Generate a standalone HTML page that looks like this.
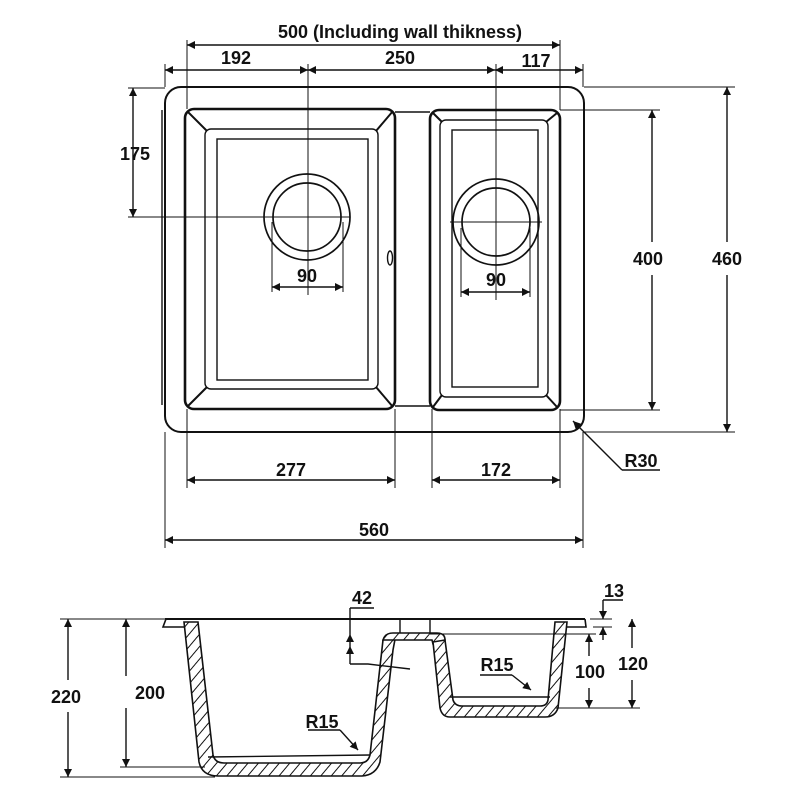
<!DOCTYPE html>
<html><head><meta charset="utf-8"><style>
html,body{margin:0;padding:0;background:#fff;}
svg{display:block;}
text{font-family:"Liberation Sans",sans-serif;font-weight:bold;font-size:18px;fill:#111;}
</style></head><body>
<svg width="800" height="800" viewBox="0 0 800 800" xmlns="http://www.w3.org/2000/svg">
<defs>
<marker id="a" viewBox="0 0 10 10" refX="10" refY="5" markerWidth="12" markerHeight="8" orient="auto-start-reverse" markerUnits="userSpaceOnUse"><path d="M0,0 L10,5 L0,10 z" fill="#111"/></marker>
<pattern id="h" width="8" height="8" patternUnits="userSpaceOnUse" patternTransform="rotate(40)"><rect width="8" height="8" fill="#fff"/><line x1="0" y1="0" x2="0" y2="8" stroke="#111" stroke-width="2"/></pattern>
</defs>
<g fill="none" stroke="#111" stroke-width="1.4">
<rect x="165" y="87" width="419" height="345" rx="16" stroke-width="2"/>
<line x1="162" y1="110" x2="162" y2="405"/>
<rect x="185" y="109" width="210" height="300" rx="9" stroke-width="2.6"/>
<rect x="205" y="129" width="173" height="260" rx="6"/>
<rect x="217" y="139" width="151" height="241"/>
<line x1="187" y1="111" x2="207" y2="131" stroke-width="2"/><line x1="393" y1="111" x2="376" y2="131" stroke-width="2"/>
<line x1="187" y1="407" x2="207" y2="387" stroke-width="2"/><line x1="393" y1="407" x2="376" y2="387" stroke-width="2"/>
<line x1="395" y1="112" x2="430" y2="112"/><line x1="395" y1="406" x2="430" y2="406"/>
<rect x="430" y="110" width="130" height="300" rx="9" stroke-width="2.6"/>
<rect x="440" y="120" width="108" height="277" rx="6"/>
<rect x="452" y="130" width="86" height="257"/>
<line x1="433" y1="113" x2="442" y2="122" stroke-width="2"/><line x1="557" y1="113" x2="546" y2="122" stroke-width="2"/>
<line x1="433" y1="407" x2="442" y2="395" stroke-width="2"/><line x1="557" y1="407" x2="546" y2="395" stroke-width="2"/>
<ellipse cx="390" cy="258" rx="2.5" ry="7"/>
<circle cx="307" cy="217" r="43" stroke-width="1.7"/><circle cx="307" cy="217" r="34" stroke-width="1.7"/>
<circle cx="496" cy="222" r="43" stroke-width="1.7"/><circle cx="496" cy="222" r="34" stroke-width="1.7"/>
<line x1="187" y1="45" x2="560" y2="45" marker-start="url(#a)" marker-end="url(#a)"/>
<line x1="187" y1="40" x2="187" y2="109" stroke-width="1"/><line x1="560" y1="40" x2="560" y2="110" stroke-width="1"/>
<line x1="165" y1="70" x2="308" y2="70" marker-start="url(#a)" marker-end="url(#a)"/>
<line x1="308" y1="70" x2="495" y2="70" marker-start="url(#a)" marker-end="url(#a)"/>
<line x1="495" y1="70" x2="583" y2="70" marker-start="url(#a)" marker-end="url(#a)"/>
<line x1="165" y1="64" x2="165" y2="87" stroke-width="1"/><line x1="583" y1="64" x2="583" y2="87" stroke-width="1"/>
<line x1="308" y1="64" x2="308" y2="295" stroke-width="1"/><line x1="496" y1="64" x2="496" y2="300" stroke-width="1"/>
<line x1="133" y1="88" x2="133" y2="217" marker-start="url(#a)" marker-end="url(#a)"/>
<line x1="128" y1="88" x2="165" y2="88" stroke-width="1"/><line x1="128" y1="217" x2="350" y2="217" stroke-width="1"/>
<line x1="450" y1="222" x2="542" y2="222" stroke-width="1"/>
<line x1="272" y1="222" x2="272" y2="292" stroke-width="1"/><line x1="343" y1="222" x2="343" y2="292" stroke-width="1"/>
<line x1="272" y1="287" x2="343" y2="287" marker-start="url(#a)" marker-end="url(#a)"/>
<line x1="461" y1="228" x2="461" y2="297" stroke-width="1"/><line x1="530" y1="228" x2="530" y2="297" stroke-width="1"/>
<line x1="461" y1="292" x2="530" y2="292" marker-start="url(#a)" marker-end="url(#a)"/>
<line x1="652" y1="110" x2="652" y2="242" marker-start="url(#a)"/><line x1="652" y1="275" x2="652" y2="410" marker-end="url(#a)"/>
<line x1="560" y1="110" x2="660" y2="110" stroke-width="1"/><line x1="560" y1="410" x2="660" y2="410" stroke-width="1"/>
<line x1="727" y1="87" x2="727" y2="242" marker-start="url(#a)"/><line x1="727" y1="275" x2="727" y2="432" marker-end="url(#a)"/>
<line x1="584" y1="87" x2="735" y2="87" stroke-width="1"/><line x1="584" y1="432" x2="735" y2="432" stroke-width="1"/>
<line x1="622" y1="470" x2="573" y2="421" marker-end="url(#a)"/><line x1="622" y1="470" x2="660" y2="470"/>
<line x1="187" y1="480" x2="395" y2="480" marker-start="url(#a)" marker-end="url(#a)"/>
<line x1="187" y1="409" x2="187" y2="488" stroke-width="1"/><line x1="395" y1="409" x2="395" y2="488" stroke-width="1"/>
<line x1="432" y1="480" x2="560" y2="480" marker-start="url(#a)" marker-end="url(#a)"/>
<line x1="432" y1="409" x2="432" y2="488" stroke-width="1"/><line x1="560" y1="409" x2="560" y2="488" stroke-width="1"/>
<line x1="165" y1="540" x2="583" y2="540" marker-start="url(#a)" marker-end="url(#a)"/>
<line x1="165" y1="432" x2="165" y2="548" stroke-width="1"/><line x1="583" y1="432" x2="583" y2="548" stroke-width="1"/>
<line x1="165" y1="619" x2="585" y2="619" stroke-width="2"/>
<path d="M166,619 L163,627 L184,627" stroke-width="1.6"/>
<path d="M585,619 L586,627 L565,627" stroke-width="1.6"/>
<path d="M184,622 L198,622 L213,755 Q215,763 224,763 L360,763 Q368,763 370,755 L383,640 L396,634 L393,650 L380,762 Q376,775 362,776 L218,776 Q202,776 199,762 Z" fill="url(#h)" stroke-width="1.6"/>
<path d="M383,640 Q385,633 393,633 L437,633 Q445,633 445,640 L433,644 L432,640 L397,640 Z" fill="url(#h)" stroke-width="1.6"/>
<path d="M433,642 L445,640 L453,700 Q455,706 462,706 L540,706 Q547,706 548,700 L555,622 L567,622 L558,708 Q555,717 545,717 L450,717 Q442,717 440,708 Z" fill="url(#h)" stroke-width="1.6"/>
<line x1="208" y1="757" x2="370" y2="755"/><line x1="450" y1="697" x2="550" y2="697"/>
<line x1="400" y1="619" x2="400" y2="633"/><line x1="430" y1="619" x2="430" y2="633"/>
<line x1="60" y1="619" x2="170" y2="619" stroke-width="1"/><line x1="60" y1="777" x2="215" y2="777" stroke-width="1"/>
<line x1="120" y1="767" x2="205" y2="767" stroke-width="1"/>
<line x1="68" y1="619" x2="68" y2="680" marker-start="url(#a)"/><line x1="68" y1="712" x2="68" y2="777" marker-end="url(#a)"/>
<line x1="126" y1="619" x2="126" y2="676" marker-start="url(#a)"/><line x1="126" y1="708" x2="126" y2="767" marker-end="url(#a)"/>
<line x1="590" y1="619" x2="612" y2="619" stroke-width="1"/><line x1="593" y1="627" x2="612" y2="627" stroke-width="1"/>
<line x1="603" y1="600" x2="603" y2="619" marker-end="url(#a)"/><line x1="603" y1="640" x2="603" y2="627" marker-end="url(#a)"/>
<line x1="603" y1="600" x2="623" y2="600"/>
<line x1="632" y1="619" x2="632" y2="648" marker-start="url(#a)"/><line x1="632" y1="680" x2="632" y2="708" marker-end="url(#a)"/>
<line x1="589" y1="634" x2="589" y2="656" marker-start="url(#a)"/><line x1="589" y1="688" x2="589" y2="708" marker-end="url(#a)"/>
<line x1="430" y1="634" x2="596" y2="634" stroke-width="1"/><line x1="555" y1="708" x2="640" y2="708" stroke-width="1"/>
<line x1="350" y1="608" x2="374" y2="608"/>
<line x1="350" y1="608" x2="350" y2="634"/>
<line x1="350" y1="646" x2="350" y2="634" marker-end="url(#a)"/><line x1="350" y1="646" x2="350" y2="664" marker-start="url(#a)"/>
<path d="M350,664 L368,664 L410,669"/>
<line x1="308" y1="730" x2="340" y2="730"/><line x1="340" y1="730" x2="358" y2="750" marker-end="url(#a)"/>
<line x1="480" y1="675" x2="512" y2="675"/><line x1="512" y1="675" x2="531" y2="690" marker-end="url(#a)"/>
</g>
<text x="400" y="38" text-anchor="middle">500 (Including wall thikness)</text>
<text x="236" y="64" text-anchor="middle">192</text>
<text x="400" y="64" text-anchor="middle">250</text>
<text x="536" y="67" text-anchor="middle" font-size="16">117</text>
<text x="135" y="160" text-anchor="middle">175</text>
<text x="307" y="282" text-anchor="middle">90</text>
<text x="496" y="286" text-anchor="middle">90</text>
<text x="648" y="265" text-anchor="middle">400</text>
<text x="727" y="265" text-anchor="middle">460</text>
<text x="641" y="467" text-anchor="middle">R30</text>
<text x="291" y="476" text-anchor="middle">277</text>
<text x="496" y="476" text-anchor="middle">172</text>
<text x="374" y="536" text-anchor="middle">560</text>
<text x="362" y="604" text-anchor="middle">42</text>
<text x="614" y="597" text-anchor="middle" font-size="16">13</text>
<text x="66" y="703" text-anchor="middle">220</text>
<text x="150" y="699" text-anchor="middle">200</text>
<text x="590" y="678" text-anchor="middle">100</text>
<text x="633" y="670" text-anchor="middle">120</text>
<text x="322" y="728" text-anchor="middle">R15</text>
<text x="497" y="671" text-anchor="middle">R15</text>
</svg>
</body></html>
